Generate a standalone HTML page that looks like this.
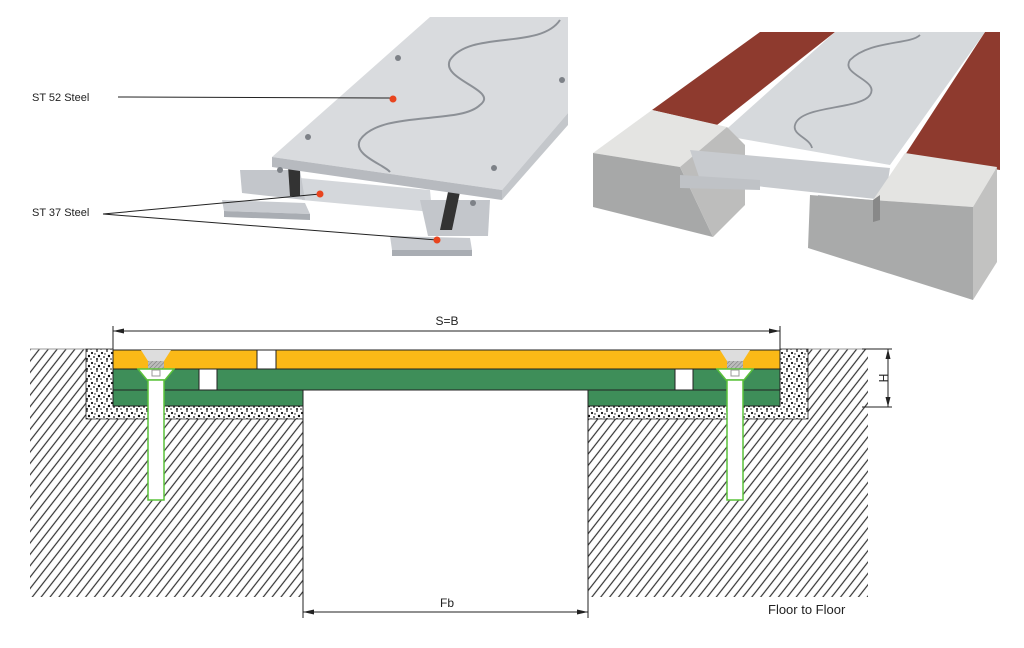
<!DOCTYPE html>
<html><head><meta charset="utf-8"><style>
body{margin:0;background:#fff;}
svg{display:block;font-family:"Liberation Sans",sans-serif;}
</style></head><body>
<svg width="1024" height="648" viewBox="0 0 1024 648" xmlns="http://www.w3.org/2000/svg">
<defs>
<pattern id="hatch" width="7" height="40" patternUnits="userSpaceOnUse" patternTransform="rotate(38)">
<line x1="1" y1="0" x2="1" y2="40" stroke="#333" stroke-width="1.2"/>
</pattern>
<pattern id="grav" width="10" height="10" patternUnits="userSpaceOnUse">
<rect width="10" height="10" fill="#fff"/>
<circle cx="2" cy="3" r="1.1" fill="#111"/><circle cx="7" cy="1" r="0.9" fill="#111"/>
<circle cx="9" cy="6" r="1.2" fill="#111"/><circle cx="4" cy="7" r="0.9" fill="#111"/>
<circle cx="7" cy="9" r="1" fill="#111"/><circle cx="1" cy="9" r="0.8" fill="#111"/>
<circle cx="5" cy="4" r="0.7" fill="#111"/>
</pattern>
<pattern id="bolthatch" width="3" height="3" patternUnits="userSpaceOnUse" patternTransform="rotate(45)">
<rect width="3" height="3" fill="#bbb"/><line x1="0" y1="0" x2="0" y2="3" stroke="#777" stroke-width="1"/>
</pattern>
</defs>

<g>
<polygon points="222,200 305,203 310,214 224,211" fill="#c9ccd1"/>
<polygon points="224,211 310,214 310,220 224,217" fill="#a9adb3"/>
<polygon points="390,236 470,238 472,250 392,250" fill="#c9ccd1"/>
<polygon points="392,250 472,250 472,256 392,256" fill="#a9adb3"/>
<polygon points="300,178 430,190 432,212 302,200" fill="#d4d7db"/>
<polygon points="240,170 300,170 305,200 242,193" fill="#c3c6cb"/>
<polygon points="420,200 490,200 488,236 428,236" fill="#c3c6cb"/>
<polygon points="288,166 300,166 300,196 290,196" fill="#333"/>
<polygon points="448,192 460,192 452,230 440,230" fill="#333"/>
<polygon points="430,17 568,17 568,113 502,190 272,157" fill="#d9dbde"/>
<polygon points="272,157 502,190 502,200 272,167" fill="#b7babf"/>
<polygon points="502,190 568,113 568,125 502,200" fill="#c4c7cb"/>
<path d="M560,20 C540,50 470,30 450,60 C440,80 500,90 480,105 C460,125 380,110 360,140 C352,155 385,165 390,172" fill="none" stroke="#8c9096" stroke-width="2"/>
<g fill="#7d8187"><circle cx="398" cy="58" r="3"/><circle cx="562" cy="80" r="3"/><circle cx="308" cy="137" r="3"/><circle cx="494" cy="168" r="3"/><circle cx="280" cy="170" r="3"/><circle cx="473" cy="203" r="3"/></g>
</g>
<text x="32" y="101" font-size="11" fill="#222">ST 52 Steel</text>
<line x1="118" y1="97" x2="393" y2="98" stroke="#222" stroke-width="1"/>
<circle cx="393" cy="99" r="3.5" fill="#e8441e"/>
<text x="32" y="216" font-size="11" fill="#222">ST 37 Steel</text>
<line x1="103" y1="214" x2="320" y2="194" stroke="#222" stroke-width="1"/>
<line x1="103" y1="214" x2="437" y2="240" stroke="#222" stroke-width="1"/>
<circle cx="320" cy="194" r="3.5" fill="#e8441e"/>
<circle cx="437" cy="240" r="3.5" fill="#e8441e"/>

<g>
<polygon points="760,32 835,32 717,125 652,110" fill="#8e3a2e"/>
<polygon points="985,32 1000,32 1000,170 905,155" fill="#8e3a2e"/>
<polygon points="835,32 985,32 890,165 720,135" fill="#d6d9dc"/>
<path d="M920,35 C910,45 870,40 850,60 C840,75 880,80 870,95 C860,110 800,105 795,125 C792,135 810,138 812,148" fill="none" stroke="#8c9096" stroke-width="1.8"/>
<polygon points="593,153 652,110 727,127 680,167" fill="#e4e4e2"/>
<polygon points="593,153 680,167 713,237 593,207" fill="#a7a8a8"/>
<polygon points="680,167 727,127 745,145 745,205 713,237" fill="#bdbdbc"/>
<polygon points="690,150 890,168 885,200 700,180" fill="#c8cbcf"/>
<polygon points="680,175 760,180 760,190 680,188" fill="#bfc2c6"/>
<polygon points="818,195 870,200 870,212 818,208" fill="#bfc2c6"/>
<polygon points="905,153 997,167 973,207 873,200" fill="#e4e4e2"/>
<polygon points="810,195 873,200 973,207 973,300 808,248" fill="#a9aaaa"/>
<polygon points="973,207 997,167 997,262 973,300" fill="#c2c2c1"/>
<polygon points="873,200 880,195 880,220 873,222" fill="#888"/>
</g>

<path d="M30,349 L86,349 L86,419 L303,419 L303,597 L30,597 Z" fill="url(#hatch)"/>
<line x1="30" y1="349" x2="86" y2="349" stroke="#999" stroke-width="1"/>
<path d="M86,349 L113,349 L113,406 L303,406 L303,419 L86,419 Z" fill="url(#grav)" stroke="#222" stroke-width="0.8"/>
<path d="M808,349 L868,349 L868,597 L588,597 L588,419 L808,419 Z" fill="url(#hatch)"/>
<line x1="808" y1="349" x2="868" y2="349" stroke="#999" stroke-width="1"/>
<path d="M780,349 L808,349 L808,419 L588,419 L588,406 L780,406 Z" fill="url(#grav)" stroke="#222" stroke-width="0.8"/>
<line x1="303" y1="406" x2="303" y2="618" stroke="#222" stroke-width="1"/>
<line x1="588" y1="406" x2="588" y2="618" stroke="#222" stroke-width="1"/>
<rect x="113" y="350" width="667" height="19" fill="#fbb917" stroke="#222" stroke-width="1"/>
<rect x="113" y="369" width="667" height="21" fill="#3e8e59" stroke="#222" stroke-width="1"/>
<rect x="113" y="390" width="190" height="16" fill="#3e8e59" stroke="#222" stroke-width="1"/>
<rect x="588" y="390" width="192" height="16" fill="#3e8e59" stroke="#222" stroke-width="1"/>
<rect x="257" y="350" width="19" height="19" fill="#fff" stroke="#222" stroke-width="1"/>
<rect x="199" y="369" width="18" height="21" fill="#fff" stroke="#222" stroke-width="1"/>
<rect x="675" y="369" width="18" height="21" fill="#fff" stroke="#222" stroke-width="1"/>
<g>
<polygon points="141,350 171,350 164,361 148,361" fill="#ddd"/>
<rect x="148" y="361" width="16" height="8" fill="url(#bolthatch)"/>
<polygon points="138,369 174,369 165,380 147,380" fill="#fff" stroke="#5ac23a" stroke-width="1.5"/>
<rect x="148" y="380" width="16" height="120" fill="#fff" stroke="#5ac23a" stroke-width="1.5"/>
<rect x="152" y="370" width="8" height="6" fill="none" stroke="#999" stroke-width="1"/>
</g>
<g>
<polygon points="720,350 750,350 743,361 727,361" fill="#ddd"/>
<rect x="727" y="361" width="16" height="8" fill="url(#bolthatch)"/>
<polygon points="717,369 753,369 744,380 726,380" fill="#fff" stroke="#5ac23a" stroke-width="1.5"/>
<rect x="727" y="380" width="16" height="120" fill="#fff" stroke="#5ac23a" stroke-width="1.5"/>
<rect x="731" y="370" width="8" height="6" fill="none" stroke="#999" stroke-width="1"/>
</g>
<line x1="113" y1="326" x2="113" y2="350" stroke="#222"/>
<line x1="780" y1="326" x2="780" y2="350" stroke="#222"/>
<line x1="113" y1="331" x2="780" y2="331" stroke="#222"/>
<polygon points="113,331 124,328.5 124,333.5" fill="#222"/>
<polygon points="780,331 769,328.5 769,333.5" fill="#222"/>
<text x="447" y="325" font-size="12" fill="#222" text-anchor="middle">S=B</text>
<line x1="862" y1="349" x2="892" y2="349" stroke="#222"/>
<line x1="862" y1="407" x2="892" y2="407" stroke="#222"/>
<line x1="888" y1="349" x2="888" y2="407" stroke="#222"/>
<polygon points="888,349 885.5,359 890.5,359" fill="#222"/>
<polygon points="888,407 885.5,397 890.5,397" fill="#222"/>
<text x="0" y="0" font-size="12" fill="#222" text-anchor="middle" transform="translate(879,378) rotate(90)">H</text>
<line x1="303" y1="612" x2="588" y2="612" stroke="#222"/>
<polygon points="303,612 314,609.5 314,614.5" fill="#222"/>
<polygon points="588,612 577,609.5 577,614.5" fill="#222"/>
<text x="447" y="607" font-size="12" fill="#222" text-anchor="middle">Fb</text>
<text x="768" y="614" font-size="13" fill="#222">Floor to Floor</text>
</svg>
</body></html>
